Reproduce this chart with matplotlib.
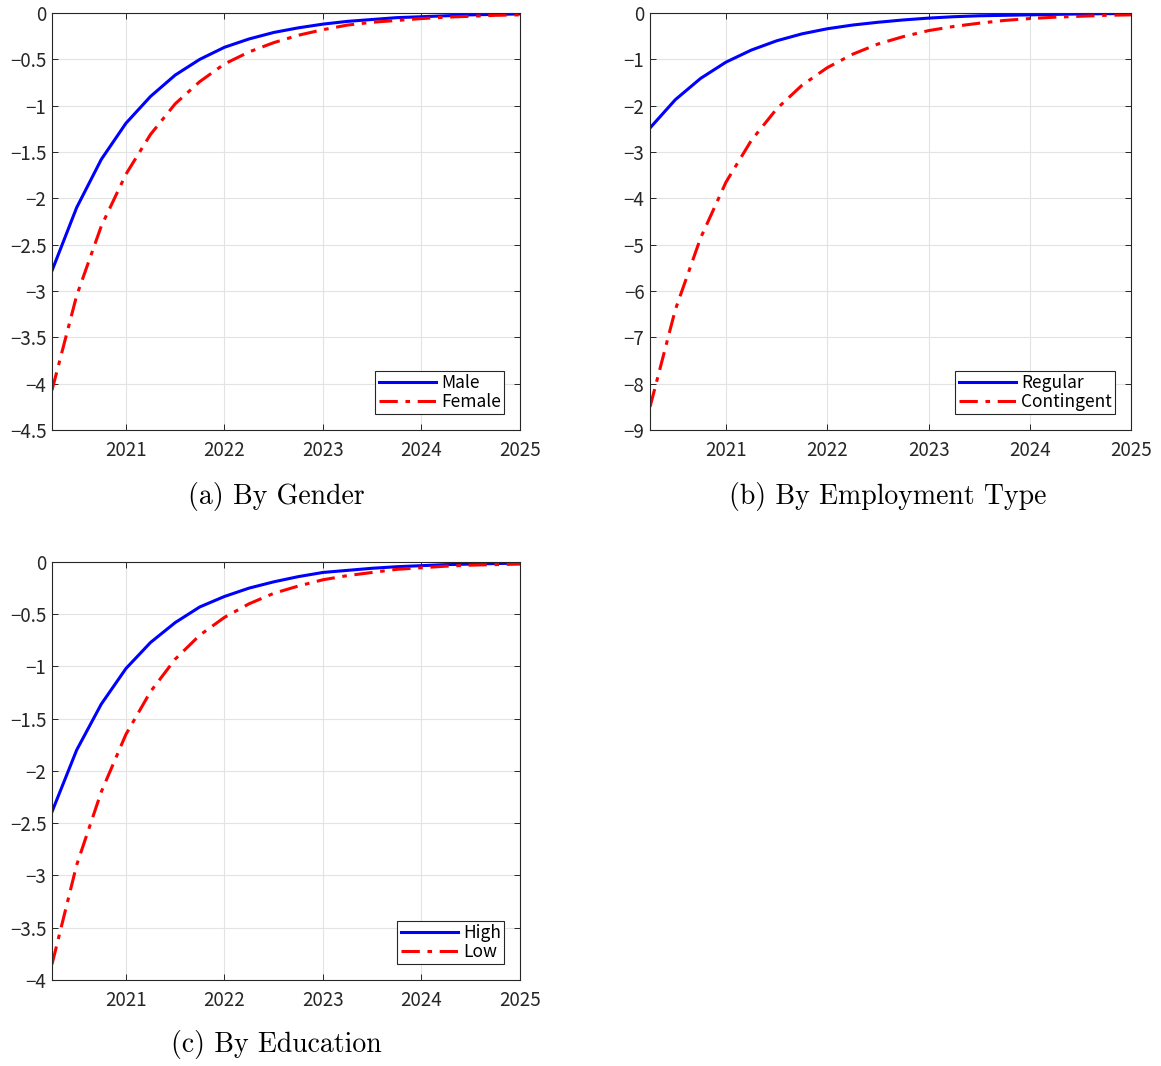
import matplotlib
matplotlib.use("Agg")
import matplotlib.pyplot as plt
import numpy as np

plt.rcParams["font.family"] = ["Noto Sans CJK JP", "DejaVu Sans"]
plt.rcParams["axes.unicode_minus"] = True

# quarterly horizon, 2020Q2 .. 2025Q1
quarters = np.arange(20) * 0.25 + 2020.25

male = [-2.78, -2.10, -1.58, -1.19, -0.90, -0.67, -0.50, -0.37, -0.28, -0.21,
        -0.16, -0.12, -0.09, -0.07, -0.05, -0.04, -0.03, -0.02, -0.015, -0.01]
female = [-4.07, -3.05, -2.30, -1.74, -1.31, -0.98, -0.74, -0.55, -0.42, -0.32,
          -0.24, -0.18, -0.13, -0.10, -0.08, -0.06, -0.045, -0.035, -0.025, -0.02]
regular = [-2.48, -1.87, -1.41, -1.06, -0.80, -0.60, -0.45, -0.34, -0.26, -0.20,
           -0.15, -0.11, -0.08, -0.06, -0.05, -0.04, -0.03, -0.02, -0.015, -0.01]
contingent = [-8.50, -6.40, -4.85, -3.65, -2.75, -2.07, -1.56, -1.18, -0.89, -0.67,
              -0.51, -0.38, -0.29, -0.22, -0.16, -0.12, -0.09, -0.07, -0.05, -0.04]
high = [-2.39, -1.80, -1.36, -1.02, -0.77, -0.58, -0.43, -0.33, -0.25, -0.19,
        -0.14, -0.10, -0.08, -0.06, -0.045, -0.035, -0.025, -0.02, -0.015, -0.01]
low = [-3.85, -2.90, -2.20, -1.65, -1.24, -0.93, -0.70, -0.53, -0.40, -0.30,
       -0.23, -0.17, -0.13, -0.10, -0.07, -0.055, -0.04, -0.03, -0.025, -0.02]

panels = [
    ([0.0448, 0.5966, 0.4031, 0.3912], male, female, ("Male", "Female"),
     np.arange(-4.5, 0.01, 0.5), "(a) By Gender", (0.2377, 0.5347)),
    ([0.5599, 0.5966, 0.4143, 0.3912], regular, contingent, ("Regular", "Contingent"),
     np.arange(-9, 0.01, 1.0), "(b) By Employment Type", (0.765, 0.5347)),
    ([0.0448, 0.0807, 0.4031, 0.3921], high, low, ("High", "Low"),
     np.arange(-4, 0.01, 0.5), "(c) By Education", (0.2377, 0.0197)),
]


def fmt(v):
    s = f"{v:g}"
    return s.replace("-", "\u2212")


fig = plt.figure(figsize=(11.61, 10.66), dpi=100)

for rect, s1, s2, names, yticks, caption, cap_pos in panels:
    ax = fig.add_axes(rect)
    ax.plot(quarters, s1, color="#0000ff", linewidth=2.2, label=names[0])
    ax.plot(quarters, s2, color="#ff0000", linewidth=2.2, linestyle="-.",
            dashes=(6, 2.5, 1.5, 2.5), label=names[1])
    ax.set_xlim(2020.25, 2025)
    ax.set_ylim(yticks[0], 0)
    ax.set_xticks([2021, 2022, 2023, 2024, 2025])
    ax.set_yticks(yticks)
    ax.set_yticklabels([fmt(v) for v in yticks])
    ax.grid(True, color="#e3e3e3", linewidth=0.8)
    ax.set_axisbelow(True)
    ax.tick_params(direction="in", top=True, right=True, labelsize=13.5,
                   length=4, width=0.7, colors="#262626", pad=4)
    ax.tick_params(axis="x", pad=7)
    for sp in ax.spines.values():
        sp.set_color("#262626")
        sp.set_linewidth(0.8)
    leg = ax.legend(loc="lower right", fontsize=12.5, handlelength=3.3,
                    handletextpad=0.3, borderpad=0.2, labelspacing=0.05,
                    borderaxespad=0.9, fancybox=False, framealpha=1)
    leg.get_frame().set_edgecolor("#262626")
    leg.get_frame().set_linewidth(0.8)
    fig.text(cap_pos[0], cap_pos[1], caption, ha="center", va="center",
             fontsize=20, family=["cmr10", "DejaVu Serif"])

fig.savefig("out.png", dpi=100)
